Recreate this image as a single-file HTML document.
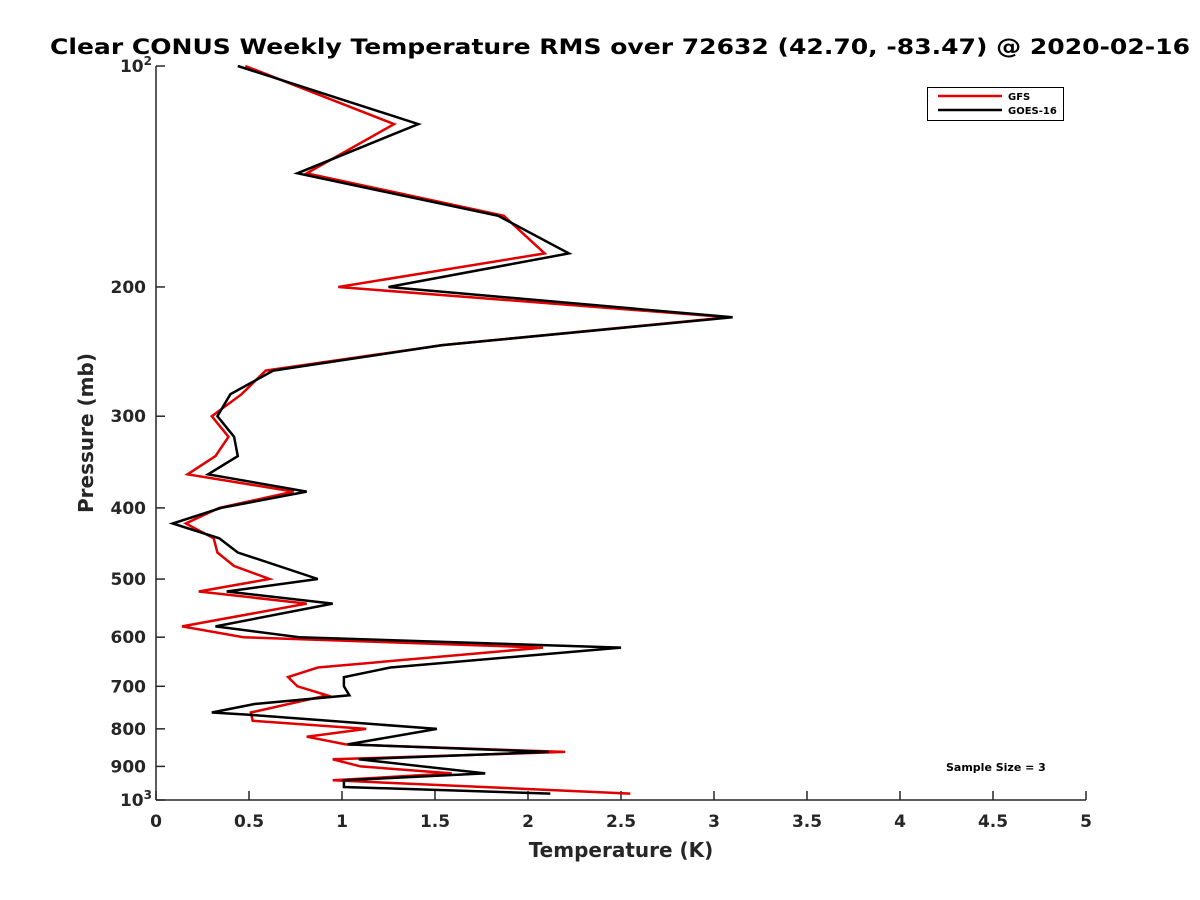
<!DOCTYPE html>
<html><head><meta charset="utf-8"><style>
body{margin:0;background:#fff;}
svg{display:block;font-family:"DejaVu Sans","Liberation Sans",sans-serif;font-weight:bold;}
</style></head><body>
<svg id="chart" width="1200" height="900" viewBox="0 0 1200 900">
<rect width="1200" height="900" fill="#fff"/>
<text x="50" y="54" font-size="21" textLength="1140" lengthAdjust="spacingAndGlyphs" fill="#000">Clear CONUS Weekly Temperature RMS over 72632 (42.70, -83.47) @ 2020-02-16</text>
<g id="axes"></g>
<g id="series"></g>
<g>
<rect x="927.5" y="87.5" width="136" height="33" fill="#fff" stroke="#000" stroke-width="1"/>
<line x1="938" y1="96" x2="1002" y2="96" stroke="#e00000" stroke-width="2.5"/>
<text x="1008" y="100" font-size="10">GFS</text>
<line x1="938" y1="110" x2="1002" y2="110" stroke="#000" stroke-width="2.5"/>
<text x="1008" y="114" font-size="10">GOES-16</text>
</g>
<text x="946" y="771" font-size="11">Sample Size = 3</text>
<text x="621" y="857" font-size="20" text-anchor="middle" fill="#262626">Temperature (K)</text>
<text transform="translate(93,433) rotate(-90)" font-size="20" text-anchor="middle" fill="#262626">Pressure (mb)</text>
</svg>
<script>
const xTicks = [0,0.5,1,1.5,2,2.5,3,3.5,4,4.5,5];
const xTickLabels = ["0","0.5","1","1.5","2","2.5","3","3.5","4","4.5","5"];
const yTicks = [100,200,300,400,500,600,700,800,900,1000];
const gfsP = [100,120,140,160,180,200,220,240,260,280,300,320,340,360,380,400,420,440,460,480,500,520,540,580,600,620,660,680,700,720,760,780,800,820,840,860,880,900,920,940,980];
const gfsT = [0.48,1.28,0.81,1.87,2.09,0.98,3.08,1.54,0.59,0.46,0.30,0.39,0.32,0.17,0.74,0.34,0.16,0.31,0.33,0.42,0.61,0.23,0.81,0.14,0.47,2.08,0.87,0.71,0.76,0.92,0.51,0.52,1.13,0.81,1.02,2.20,0.95,1.10,1.59,0.95,2.55];
const goesP = [100,120,140,160,180,200,220,240,260,280,300,320,340,360,380,400,420,440,460,500,520,540,580,600,620,660,680,700,720,740,760,765,800,840,860,880,920,940,960,980];
const goesT = [0.44,1.41,0.76,1.84,2.22,1.25,3.10,1.54,0.63,0.40,0.33,0.42,0.44,0.28,0.81,0.35,0.09,0.34,0.44,0.87,0.38,0.95,0.32,0.77,2.50,1.26,1.01,1.01,1.04,0.53,0.30,0.49,1.51,1.03,2.11,1.09,1.77,1.01,1.01,2.12];

const X0=156, X1=1086, Y0=66, Y1=800;
function xs(t){return X0+(t-0)/(5-0)*(X1-X0);}
function ys(p){return Y0+(Math.log10(p)-2)/(3-2)*(Y1-Y0);}
const NS="http://www.w3.org/2000/svg";
const axes=document.getElementById('axes');
const series=document.getElementById('series');
function mk(tag,attrs,parent){const e=document.createElementNS(NS,tag);for(const k in attrs)e.setAttribute(k,attrs[k]);parent.appendChild(e);return e;}

let a=mk('line',{x1:X0,y1:Y0,x2:X0,y2:Y1,stroke:'#262626','stroke-width':1.5},axes);


a=mk('line',{x1:X0,y1:Y1,x2:X1,y2:Y1,stroke:'#262626','stroke-width':1.5},axes);



xTicks.forEach((t,i)=>{
  const x=xs(t);
  const tk=mk('line',{x1:x,y1:Y1,x2:x,y2:Y1-9,stroke:'#262626','stroke-width':1.5},axes);
  
  
  const lb=mk('text',{x:x,y:Y1+27,'font-size':17,'text-anchor':'middle',fill:'#262626'},axes);
  lb.textContent=xTickLabels[i];
  
  
});
yTicks.forEach(p=>{
  const y=ys(p);
  const tk=mk('line',{x1:X0,y1:y,x2:X0+9,y2:y,stroke:'#262626','stroke-width':1.5},axes);
  
  
  const lb=mk('text',{x:X0-10,y:y+6,'font-size':17,'text-anchor':'end',fill:'#262626'},axes);
  if(p===100||p===1000){
    lb.textContent='10';
    const s=mk('tspan',{dy:-7,'font-size':12},lb);
    s.textContent=(p===100?'2':'3');
    lb.setAttribute('x',X0-4);
    
    
  } else lb.textContent=String(p);
  
  
});

function line(P,T,color,name){
  const d=P.map((p,i)=>(i?'L':'M')+xs(T[i]).toFixed(1)+' '+ys(p).toFixed(1)).join(' ');
  const e=mk('path',{d:d,fill:'none',stroke:color,'stroke-width':2.5,'stroke-linejoin':'miter'},series);
  
  
}
line(gfsP,gfsT,'#e00000','gfs-line');
line(goesP,goesT,'#000','goes16-line');
</script>
</body></html>
